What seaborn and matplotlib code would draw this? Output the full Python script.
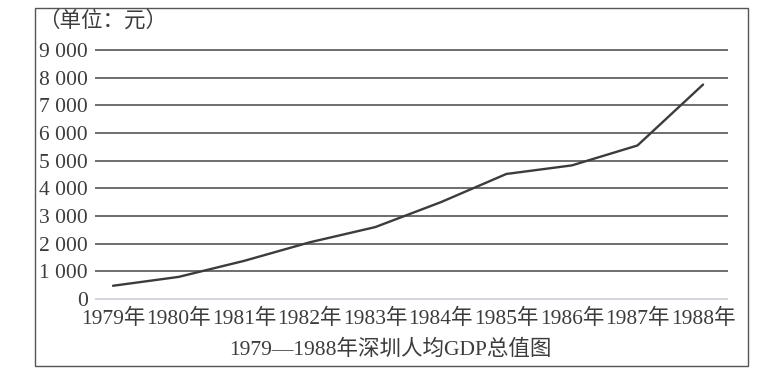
import matplotlib
matplotlib.use("Agg")
import matplotlib.pyplot as plt
import matplotlib.patches as patches
import pandas as pd
import seaborn as sns

# Shenzhen per-capita GDP, 1979-1988 (yuan)
years = [1979, 1980, 1981, 1982, 1983, 1984, 1985, 1986, 1987, 1988]
gdp = [480, 800, 1380, 2050, 2600, 3500, 4520, 4830, 5550, 7750]
year_labels = [f"{y}年" for y in years]
y_ticks = list(range(0, 10000, 1000))
y_tick_labels = ["0"] + [f"{v // 1000} 000" for v in y_ticks[1:]]

sns.set_style("white")
plt.rcParams['font.family'] = ['Liberation Serif', 'Noto Sans CJK SC']
ink = "#3c3c3c"

df = pd.DataFrame({"pos": range(len(years)), "gdp": gdp})

fig = plt.figure(figsize=(7.63, 3.86), dpi=100)
ax = fig.add_axes([0.1245, 0.2181, 0.8296, 0.6596])

sns.lineplot(data=df, x="pos", y="gdp", ax=ax, color=ink, linewidth=1.7)

ax.set_xlim(-0.275, 9.38)
ax.set_ylim(-100, 9100)
ax.set_yticks(y_ticks)
ax.set_yticklabels(y_tick_labels)
ax.set_xticks(range(len(years)))
ax.set_xticklabels(year_labels)
ax.tick_params(axis="both", length=0, labelsize=15.5, colors=ink)
ax.tick_params(axis="y", pad=5)
ax.tick_params(axis="x", pad=5)
ax.set_xlabel("")
ax.set_ylabel("")
for s in ax.spines.values():
    s.set_visible(False)

# horizontal rules
for v in y_ticks:
    ax.axhline(v, color="#c8c8d8" if v == 0 else "#474747",
               linewidth=1.1, zorder=0)

fig.text(0.05, 0.945, "（单位：元）", fontsize=15.5, color=ink,
         ha="left", va="center")
fig.text(0.512, 0.093, "1979—1988年深圳人均GDP总值图", fontsize=15.5,
         color=ink, ha="center", va="center")

frame = patches.Rectangle((0.0459, 0.0518), 0.9345, 0.9275,
                          transform=fig.transFigure, fill=False,
                          edgecolor="#555555", linewidth=1.0)
fig.add_artist(frame)

fig.savefig("out.png", dpi=100)
